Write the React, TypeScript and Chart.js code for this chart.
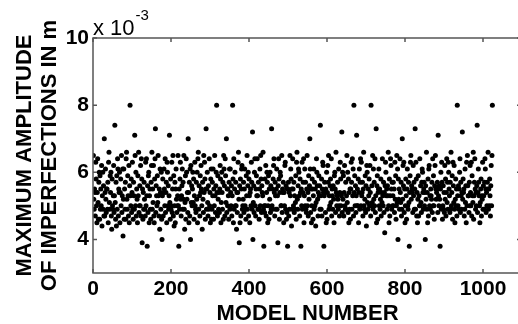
import React, { useEffect, useRef } from 'react';
import { Chart, registerables } from 'chart.js';

Chart.register(...registerables);

// Maximum amplitude of imperfections, in tenths of 1e-3 m, models 1..1024
const SEG_0001_0128 = [
  65,52,49,55,54,47,63,58,50,45,54,64,51,46,57,60,
  46,59,49,55,50,62,44,53,60,49,56,47,70,47,54,61,
  52,48,55,55,49,57,45,63,66,51,49,59,54,60,47,43,
  58,50,49,53,62,48,53,74,51,46,57,44,59,49,64,61,
  47,55,54,60,45,54,58,50,65,48,53,61,41,52,61,46,
  55,49,57,46,64,66,52,49,59,53,47,62,45,56,80,53,
  50,58,48,54,63,49,46,57,53,49,71,65,50,60,47,55,
  52,45,59,53,66,48,50,56,50,62,47,64,58,39,55,46,
];
const SEG_0129_0256 = [
  54,49,57,52,49,47,63,50,64,53,38,56,48,59,60,45,
  53,55,49,46,57,62,66,49,55,51,62,47,45,58,64,73,
  48,56,53,50,59,51,65,53,47,55,43,61,54,49,60,46,
  40,53,58,47,54,61,55,50,64,48,54,57,45,63,60,50,
  56,49,53,71,51,46,58,49,50,63,48,55,65,47,59,44,
  50,57,45,55,61,52,48,50,53,65,50,38,55,49,58,63,
  52,47,53,56,61,49,57,52,65,49,43,51,59,46,64,60,
  52,54,48,70,54,45,57,47,61,40,62,51,56,50,55,60,
];
const SEG_0257_0384 = [
  51,58,46,53,63,50,49,48,57,52,60,45,64,66,49,56,
  53,47,59,54,62,55,50,43,57,52,48,65,54,63,58,46,
  55,73,49,55,60,51,47,56,49,64,50,54,45,58,61,46,
  49,57,53,61,46,55,50,65,53,48,56,60,80,54,47,59,
  52,49,54,48,55,62,58,45,51,60,54,49,57,46,65,61,
  56,47,64,59,51,70,48,55,50,55,53,46,57,61,49,61,
  54,50,56,47,53,80,58,45,64,49,55,60,50,57,50,43,
  54,48,54,63,66,52,39,56,45,58,47,55,61,62,49,50,
];
const SEG_0385_0512 = [
  52,57,48,55,61,50,49,46,59,53,65,49,56,60,47,58,
  53,45,54,55,50,63,57,49,72,40,51,56,48,60,64,50,
  47,55,59,53,64,53,49,57,49,46,55,61,50,65,58,48,
  56,54,53,66,49,38,50,48,58,50,62,47,54,60,57,45,
  50,59,46,55,52,60,48,56,49,73,50,55,49,58,62,64,
  54,47,57,53,49,55,61,49,53,39,56,64,58,46,54,60,
  59,50,50,65,48,55,54,57,45,54,50,62,63,49,56,46,
  48,55,38,55,57,47,54,49,65,53,61,58,44,55,49,64,
];
const SEG_0513_0640 = [
  55,50,57,48,53,49,51,59,46,63,66,52,49,56,61,60,
  53,47,58,54,38,55,50,63,49,54,57,64,45,53,61,50,
  57,49,48,55,65,50,54,47,59,52,56,70,61,48,55,45,
  50,58,55,46,53,61,49,57,50,55,44,51,64,60,56,52,
  47,54,59,53,56,49,74,53,49,58,47,55,63,62,54,38,
  53,57,54,48,55,45,60,46,54,62,57,65,49,53,50,56,
  58,51,64,47,55,53,49,56,52,45,59,60,55,48,66,54,
  50,53,57,52,49,61,50,47,54,63,58,50,53,72,48,60,
];
const SEG_0641_0768 = [
  52,59,47,54,62,50,49,57,49,53,65,51,60,48,58,45,
  54,49,55,46,55,63,57,49,64,53,61,47,80,54,59,50,
  56,48,53,71,50,55,50,58,45,54,61,49,57,64,50,63,
  53,54,57,47,55,66,50,49,52,59,48,56,44,62,60,51,
  49,55,53,58,50,62,54,47,80,50,56,51,65,49,61,52,
  57,50,64,48,53,73,45,56,59,46,54,55,61,50,55,49,
  52,58,47,54,51,64,53,50,57,48,54,42,56,63,60,53,
  55,49,56,53,66,50,45,58,47,53,64,62,55,49,57,50,
];
const SEG_0769_0896 = [
  53,57,50,55,48,63,52,59,46,50,65,51,61,40,58,52,
  55,49,64,54,51,57,47,49,70,52,62,56,63,48,55,45,
  50,58,53,46,55,61,50,49,57,51,38,54,59,63,65,52,
  56,55,54,48,62,53,57,49,55,73,49,63,58,47,54,45,
  52,59,47,53,50,64,50,56,51,48,57,61,60,54,49,55,
  57,50,54,40,56,52,66,49,54,45,58,47,61,62,50,53,
  49,55,53,52,57,48,64,50,59,50,46,56,62,65,55,52,
  54,55,57,48,71,53,50,56,52,38,55,60,49,63,57,46,
];
const SEG_0897_1024 = [
  50,56,49,54,48,62,52,58,47,54,64,51,57,49,63,60,
  55,53,48,57,49,66,50,54,59,46,63,56,51,62,49,45,
  52,58,50,55,47,80,53,50,56,49,55,60,64,48,57,53,
  49,54,72,52,58,54,55,47,49,61,51,56,45,63,50,65,
  56,53,53,48,57,50,62,54,50,63,47,59,53,51,66,46,
  53,57,64,55,49,54,50,56,74,48,54,61,57,53,50,45,
  51,55,58,47,53,52,63,49,56,53,49,57,64,61,55,48,
  54,50,57,55,66,49,55,50,58,53,47,56,62,50,65,80,
];

const X_MIN = 0;
const X_MAX = 1100;
const Y_MIN = 3;
const Y_MAX = 10;
const X_TICKS = [0, 200, 400, 600, 800, 1000];
const Y_TICKS = [4, 6, 8, 10];
const X_TITLE = 'MODEL NUMBER';
const Y_TITLE_LINES = ['MAXIMUM AMPLITUDE', 'OF IMPERFECTIONS IN m'];
const Y_EXP_BASE = 'x 10';
const Y_EXP_POWER = '-3';

const FONT = "'Liberation Sans', Arial, Helvetica, sans-serif";
const CW = 530;
const CH = 324;

export default function App() {
  const ref = useRef<HTMLCanvasElement>(null);

  useEffect(() => {
    if (!ref.current) return;
    const tenths = [
      ...SEG_0001_0128, ...SEG_0129_0256, ...SEG_0257_0384, ...SEG_0385_0512,
      ...SEG_0513_0640, ...SEG_0641_0768, ...SEG_0769_0896, ...SEG_0897_1024,
    ];
    const points = tenths.map((t, i) => ({ x: i + 1, y: t / 10 }));

    const framePlugin = {
      id: 'frame',
      afterDraw(chart: any) {
        const { ctx, chartArea: a, scales } = chart;
        ctx.save();
        ctx.strokeStyle = '#555';
        ctx.lineWidth = 1.5;
        ctx.strokeRect(a.left, a.top, a.right - a.left, a.bottom - a.top);
        ctx.beginPath();
        X_TICKS.forEach((v) => {
          const px = scales.x.getPixelForValue(v);
          ctx.moveTo(px, a.bottom);
          ctx.lineTo(px, a.bottom - 4);
          ctx.moveTo(px, a.top);
          ctx.lineTo(px, a.top + 4);
        });
        Y_TICKS.forEach((v) => {
          const py = scales.y.getPixelForValue(v);
          ctx.moveTo(a.left, py);
          ctx.lineTo(a.left + 4, py);
          ctx.moveTo(a.right, py);
          ctx.lineTo(a.right - 5, py);
        });
        ctx.stroke();

        ctx.fillStyle = '#000';
        ctx.font = `bold 22px ${FONT}`;
        ctx.textAlign = 'center';
        ctx.textBaseline = 'alphabetic';
        ctx.fillText(X_TITLE, (a.left + a.right) / 2, 320);

        const cy = (a.top + a.bottom) / 2;
        const baselines = [31, 56];
        Y_TITLE_LINES.forEach((line, i) => {
          ctx.save();
          ctx.translate(baselines[i], cy);
          ctx.rotate(-Math.PI / 2);
          ctx.fillText(line, 0, 0);
          ctx.restore();
        });

        ctx.textAlign = 'left';
        ctx.font = `22px ${FONT}`;
        ctx.fillText(Y_EXP_BASE, a.left, 35);
        const w = ctx.measureText(Y_EXP_BASE).width;
        ctx.font = `15px ${FONT}`;
        ctx.fillText(Y_EXP_POWER, a.left + w + 1, 20);
        ctx.restore();
      },
    };

    const chart = new Chart(ref.current, {
      type: 'scatter',
      data: {
        datasets: [
          {
            data: points,
            pointRadius: 2.5,
            pointBackgroundColor: '#000',
            pointBorderWidth: 0,
            showLine: false,
          },
        ],
      },
      options: {
        animation: false,
        responsive: false,
        devicePixelRatio: 1,
        events: [],
        layout: { padding: { left: 0, top: 38, right: CW - 522, bottom: 0 } },
        plugins: { legend: { display: false }, tooltip: { enabled: false } },
        scales: {
          x: {
            type: 'linear',
            min: X_MIN,
            max: X_MAX,
            grid: { display: false, drawTicks: false },
            border: { display: false },
            afterBuildTicks: (s: any) => {
              s.ticks = X_TICKS.map((v) => ({ value: v }));
            },
            afterFit: (s: any) => {
              s.height = CH - 273;
            },
            ticks: {
              color: '#000',
              padding: 4,
              maxRotation: 0,
              callback: (v: any) => String(v),
              font: { family: FONT, size: 21, weight: 'bold' },
            },
          },
          y: {
            type: 'linear',
            min: Y_MIN,
            max: Y_MAX,
            grid: { display: false, drawTicks: false },
            border: { display: false },
            afterBuildTicks: (s: any) => {
              s.ticks = Y_TICKS.map((v) => ({ value: v }));
            },
            afterFit: (s: any) => {
              s.width = 93;
            },
            ticks: {
              color: '#000',
              padding: 4,
              callback: (v: any) => String(v),
              font: { family: FONT, size: 21, weight: 'bold' },
            },
          },
        },
      },
      plugins: [framePlugin],
    });
    return () => chart.destroy();
  }, []);

  return (
    <div style={{ position: 'fixed', left: 0, top: 0, width: 518, height: 324, overflow: 'hidden', background: '#fff' }}>
      <canvas ref={ref} width={CW} height={CH} style={{ width: CW, height: CH, display: 'block' }} />
    </div>
  );
}
